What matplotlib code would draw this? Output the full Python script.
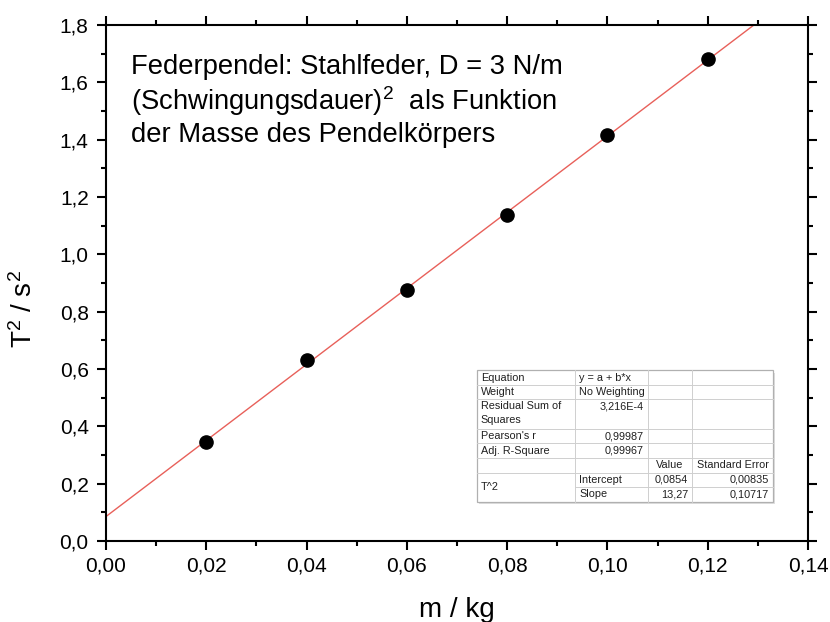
import matplotlib
matplotlib.use("Agg")
import matplotlib.pyplot as plt
from matplotlib.ticker import MultipleLocator
import numpy as np

# ---- data ----
mass = [0.02, 0.04, 0.06, 0.08, 0.10, 0.12]
t_squared = [0.346, 0.630, 0.877, 1.138, 1.415, 1.683]
fit_intercept = 0.0854
fit_slope = 13.27

x_ticks = [0.00, 0.02, 0.04, 0.06, 0.08, 0.10, 0.12, 0.14]
x_ticklabels = ["0,00", "0,02", "0,04", "0,06", "0,08", "0,10", "0,12", "0,14"]
y_ticks = [0.0, 0.2, 0.4, 0.6, 0.8, 1.0, 1.2, 1.4, 1.6, 1.8]
y_ticklabels = ["0,0", "0,2", "0,4", "0,6", "0,8", "1,0", "1,2", "1,4", "1,6", "1,8"]

table_rows = [
    ["Equation", "y = a + b*x", "", ""],
    ["Weight", "No Weighting", "", ""],
    ["Residual Sum of\nSquares", "3,216E-4", "", ""],
    ["Pearson's r", "0,99987", "", ""],
    ["Adj. R-Square", "0,99967", "", ""],
    ["", "", "Value", "Standard Error"],
    ["T^2", "Intercept", "0,0854", "0,00835"],
    ["", "Slope", "13,27", "0,10717"],
]

plt.rcParams['font.family'] = ['Liberation Sans', 'DejaVu Sans']
plt.rcParams['mathtext.fontset'] = 'custom'
plt.rcParams['mathtext.rm'] = 'Liberation Sans'
plt.rcParams['mathtext.it'] = 'Liberation Sans'

fig = plt.figure(figsize=(8.3, 6.22), dpi=100)
ax = fig.add_axes([0.1277, 0.1302, 0.8458, 0.8296])

ax.plot(mass, t_squared, 'o', color='black', markersize=9.5, zorder=3, clip_on=False)
xl = np.array([0.0, 0.14])
ax.plot(xl, fit_intercept + fit_slope * xl, color='#e8605a', lw=1.0, zorder=2)

ax.set_xlim(0, 0.14)
ax.set_ylim(0, 1.8)
ax.set_xticks(x_ticks)
ax.set_xticklabels(x_ticklabels)
ax.set_yticks(y_ticks)
ax.set_yticklabels(y_ticklabels)
ax.xaxis.set_minor_locator(MultipleLocator(0.01))
ax.yaxis.set_minor_locator(MultipleLocator(0.1))
ax.tick_params(which='both', direction='out', top=True, right=True, width=1.5, labelsize=15)
ax.tick_params(which='major', length=6.5)
ax.tick_params(which='minor', length=3.6)
ax.tick_params(axis='x', which='major', pad=5)
ax.tick_params(axis='y', which='major', pad=6)
for s in ax.spines.values():
    s.set_linewidth(1.5)
    s.set_capstyle('projecting')

ax.set_xlabel("m / kg", fontsize=20)
ax.xaxis.set_label_coords(0.5, -0.108)
ax.set_ylabel("T$^2$ / s$^2$", fontsize=20)
ax.yaxis.set_label_coords(-0.097, 0.45)

ax.text(0.035, 0.943, "Federpendel: Stahlfeder, D = 3 N/m\n(Schwingungsdauer)$^2$  als Funktion\nder Masse des Pendelkörpers",
        transform=ax.transAxes, fontsize=19.7, va='top', ha='left', linespacing=1.16)

# ---- results table ----
tl, tr = 0.528, 0.950
cols = [tl, 0.668, 0.772, 0.835, tr]
ttop, tbot = 0.331, 0.076
units = [1, 1, 2, 1, 1, 1, 1, 1]
uh = (ttop - tbot) / sum(units)
tr_kw = dict(transform=ax.transAxes, zorder=5)
ax.add_patch(plt.Rectangle((tl + 0.003, tbot - 0.005), tr - tl, ttop - tbot, facecolor='#e0e0e0', edgecolor='none', **tr_kw))
ax.add_patch(plt.Rectangle((tl, tbot), tr - tl, ttop - tbot, facecolor='white', edgecolor='#b0b0b0', lw=0.9, **tr_kw))
gc = '#cfcfcf'
y = ttop
row_y = []
for u in units:
    y0 = y
    y1 = y - u * uh
    row_y.append((y0, y1))
    y = y1
for i, (y0, y1) in enumerate(row_y):
    if i < len(units) - 1:
        xs = cols[1] if i == 6 else tl
        ax.plot([xs, tr], [y1, y1], color=gc, lw=0.7, **tr_kw)
for c in cols[1:-1]:
    ax.plot([c, c], [tbot, ttop], color=gc, lw=0.7, **tr_kw)

fs = 7.8
tc = '#202020'
pad = 0.006
for i, row in enumerate(table_rows):
    y0, y1 = row_y[i]
    ym = (y0 + y1) / 2
    for j, txt in enumerate(row):
        if not txt:
            continue
        if i == 6 and j == 0:
            ax.text(cols[0] + pad, (y0 + row_y[7][1]) / 2, txt, fontsize=fs, color=tc, ha='left', va='center', **tr_kw)
            continue
        if i == 2 and j == 0:
            ax.text(cols[0] + pad, y0 - 0.003, txt, fontsize=fs, color=tc, ha='left', va='top', linespacing=1.45, **tr_kw)
            continue
        if i == 2 and j == 1:
            ax.text(cols[2] - pad, y0 - uh / 2, txt, fontsize=fs, color=tc, ha='right', va='center', **tr_kw)
            continue
        if j == 0 or (j == 1 and i in (0, 1, 6, 7)):
            ax.text(cols[j] + pad, ym, txt, fontsize=fs, color=tc, ha='left', va='center', **tr_kw)
        elif i == 5:
            ax.text((cols[j] + cols[j + 1]) / 2, ym, txt, fontsize=fs, color=tc, ha='center', va='center', **tr_kw)
        else:
            ax.text(cols[j + 1] - pad, ym, txt, fontsize=fs, color=tc, ha='right', va='center', **tr_kw)

fig.savefig("out.png", dpi=100)
